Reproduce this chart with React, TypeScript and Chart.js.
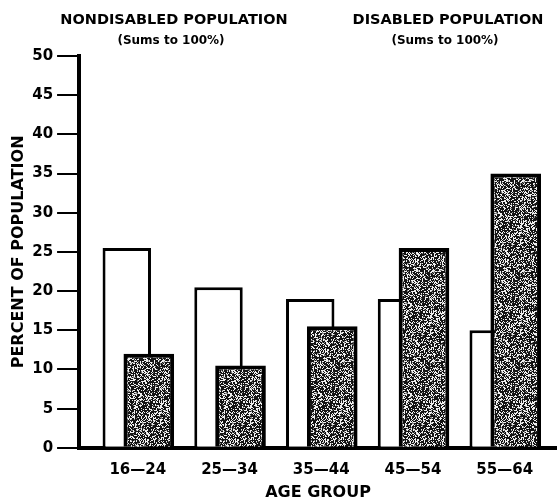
import React, { useEffect, useRef } from "react";
import { Chart, registerables } from "chart.js";

Chart.register(...registerables);

// ---- data ----
const categories = ["16—24", "25—34", "35—44", "45—54", "55—64"];
const nondisabled = [25.5, 20.5, 19, 19, 15];
const disabled = [12, 10.5, 15.5, 25.5, 35];
const yTickValues = [0, 5, 10, 15, 20, 25, 30, 35, 40, 45, 50];
const seriesLabels = ["NONDISABLED POPULATION", "DISABLED POPULATION"];
const seriesNotes = ["(Sums to 100%)", "(Sums to 100%)"];
const yTitle = "PERCENT OF POPULATION";
const xTitle = "AGE GROUP";

const FONT = '"DejaVu Sans", sans-serif';

function makeStipple(): CanvasPattern | string {
  const size = 90;
  const c = document.createElement("canvas");
  c.width = size;
  c.height = size;
  const g = c.getContext("2d");
  if (!g) return "#333";
  const img = g.createImageData(size, size);
  for (let y = 0; y < size; y++) {
    for (let x = 0; x < size; x++) {
      // deterministic hash for a scanned-stipple texture
      let h = (x * 374761393 + y * 668265263) | 0;
      h = Math.imul(h ^ (h >>> 13), 1274126177);
      h = (h ^ (h >>> 16)) >>> 0;
      const r = h / 4294967295;
      const v = r < 0.33 ? 240 : r < 0.42 ? 130 : 20;
      const i = (y * size + x) * 4;
      img.data[i] = v;
      img.data[i + 1] = v;
      img.data[i + 2] = v;
      img.data[i + 3] = 255;
    }
  }
  g.putImageData(img, 0, 0);
  return g.createPattern(c, "repeat") || "#333";
}

// draw datasets in array order so the later (disabled) bars overlap the earlier ones
const drawOrderPlugin = {
  id: "drawOrder",
  beforeDatasetsDraw(chart: any) {
    const area = chart.chartArea;
    const ctx = chart.ctx;
    for (let i = 0; i < chart.data.datasets.length; i++) {
      const meta = chart.getDatasetMeta(i);
      if (!meta.visible) continue;
      ctx.save();
      ctx.beginPath();
      ctx.rect(area.left, area.top - 10, area.right - area.left, area.bottom - area.top + 10);
      ctx.clip();
      meta.controller.draw();
      ctx.restore();
    }
    return false;
  },
};

const headerPlugin = {
  id: "seriesHeaders",
  afterDraw(chart: any) {
    const ctx = chart.ctx;
    ctx.save();
    ctx.fillStyle = "#000";
    ctx.textAlign = "center";
    ctx.textBaseline = "middle";
    const centers = [174, 448];
    seriesLabels.forEach((t, i) => {
      ctx.font = `bold 14.5px ${FONT}`;
      ctx.fillText(t, centers[i], 20);
      ctx.font = `bold 12px ${FONT}`;
      ctx.fillText(seriesNotes[i], centers[i] - 3, 41);
    });
    ctx.restore();
  },
};

export default function App() {
  const ref = useRef<HTMLCanvasElement | null>(null);

  useEffect(() => {
    if (!ref.current) return;
    const stipple = makeStipple();
    const chart = new Chart(ref.current, {
      type: "bar",
      data: {
        datasets: [
          {
            label: seriesLabels[0],
            data: nondisabled.map((v, i) => ({ x: i, y: v })),
            backgroundColor: "#ffffff",
            borderColor: "#000000",
            borderWidth: 3,
            categoryPercentage: 0.48,
            barPercentage: 2.2,
          },
          {
            label: seriesLabels[1],
            data: disabled.map((v, i) => ({ x: i, y: v })),
            backgroundColor: stipple as any,
            borderColor: "#000000",
            borderWidth: 4,
            categoryPercentage: 0.48,
            barPercentage: 2.3,
          },
        ],
      },
      options: {
        responsive: false,
        animation: false,
        devicePixelRatio: 1,
        layout: { padding: { top: 56, right: 0, left: 4, bottom: 0 } },
        plugins: {
          legend: { display: false },
          tooltip: { enabled: false },
          title: { display: false },
        },
        scales: {
          x: {
            type: "linear",
            offset: false,
            min: -0.64,
            max: 4.57,
            afterBuildTicks: (scale: any) => {
              scale.ticks = categories.map((_, i) => ({ value: i }));
            },
            grid: { display: false, drawTicks: false, offset: false },
            border: { display: true, color: "#000", width: 4 },
            ticks: {
              color: "#000",
              font: { family: FONT, size: 15, weight: "bold" },
              padding: 13,
              maxRotation: 0,
              autoSkip: false,
              callback: (v: any) => categories[v as number] ?? "",
            },
            title: {
              display: true,
              text: xTitle,
              color: "#000",
              font: { family: FONT, size: 16, weight: "bold" },
              padding: { top: -9, bottom: 0 },
            },
          },
          y: {
            min: 0,
            max: 50,
            afterBuildTicks: (scale: any) => {
              scale.ticks = yTickValues.map((v) => ({ value: v }));
            },
            grid: {
              drawOnChartArea: false,
              drawTicks: true,
              tickLength: 22,
              color: "#000",
              lineWidth: 2,
            },
            border: { display: true, color: "#000", width: 4 },
            ticks: {
              color: "#000",
              font: { family: FONT, size: 15, weight: "bold" },
              padding: 4,
            },
            title: {
              display: true,
              text: yTitle,
              color: "#000",
              font: { family: FONT, size: 16, weight: "bold" },
              padding: { top: 5, bottom: 0 },
            },
          },
        },
      },
      plugins: [drawOrderPlugin, headerPlugin],
    });
    return () => chart.destroy();
  }, []);

  return (
    <div style={{ position: "fixed", left: 0, top: 0, width: 557, height: 502, background: "#fff" }}>
      <canvas ref={ref} width={557} height={502} />
    </div>
  );
}
